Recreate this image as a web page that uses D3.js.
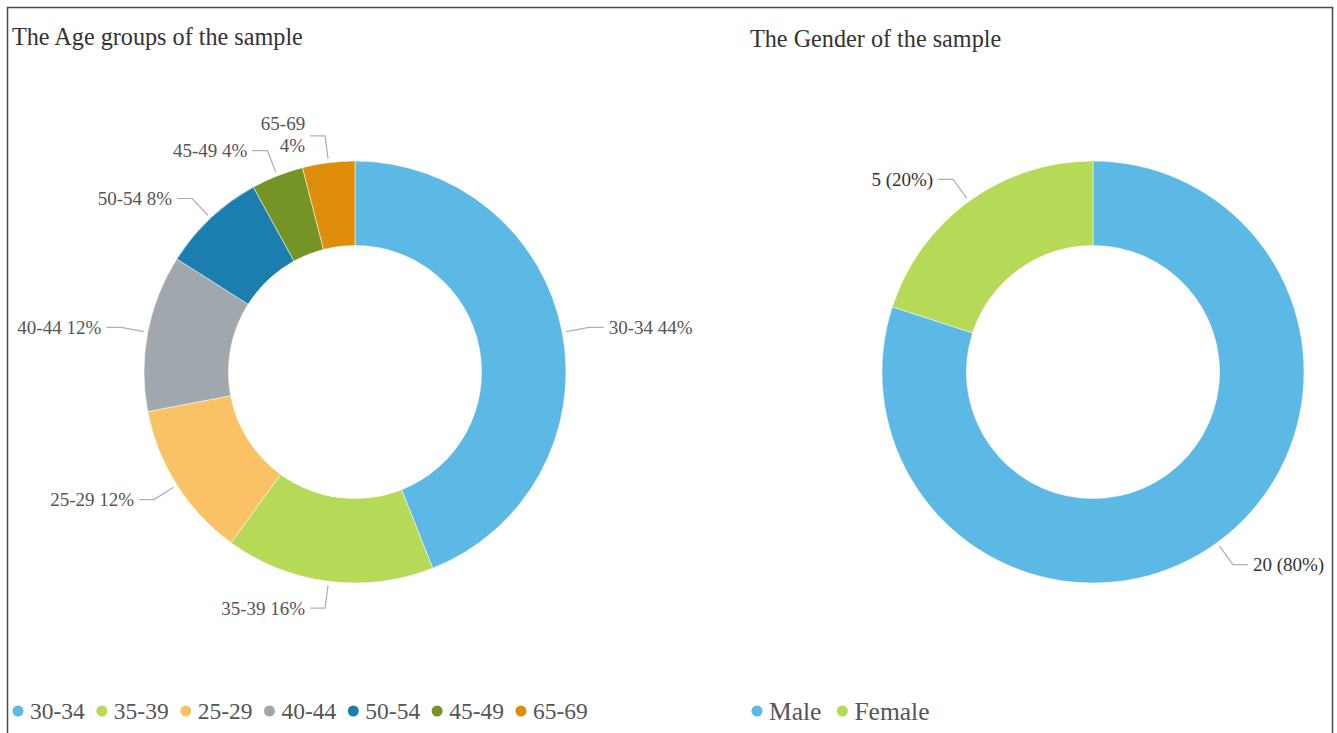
<!DOCTYPE html>
<html>
<head>
<meta charset="utf-8">
<script src="https://cdn.jsdelivr.net/npm/d3@7/dist/d3.min.js"></script>
<style>
  html, body { margin: 0; padding: 0; background: #fff; }
  svg { display: block; }
  svg text { font-family: "Liberation Serif", "Times New Roman", serif; }
</style>
</head>
<body>
<svg id="chart" width="1337" height="733"></svg>
<script>
// ---- data ----
const ageCategories = ["30-34", "35-39", "25-29", "40-44", "50-54", "45-49", "65-69"];
const ageValues = [11, 4, 3, 3, 2, 1, 1];
const ageColors = ["#5cb8e4", "#b6d957", "#f9c365", "#a0a8ad", "#1c7eae", "#749425", "#de8e0a"];
const ageWrapped = ["65-69"];

const genderCategories = ["Male", "Female"];
const genderValues = [20, 5];
const genderColors = ["#5cb8e4", "#b6d957"];

const titles = ["The Age groups of the sample", "The Gender of the sample"];

// ---- drawing ----
const svg = d3.select("#chart");
const FONT = "'Liberation Serif', 'Times New Roman', serif";

svg.append("rect")
  .attr("x", 7.5).attr("y", 7.5)
  .attr("width", 1325).attr("height", 740)
  .attr("fill", "none").attr("stroke", "#4a4a4a").attr("stroke-width", 1.5);

function donut(cfg) {
  const g = svg.append("g");
  const total = d3.sum(cfg.values);
  const data = cfg.categories.map((c, i) => ({ cat: c, value: cfg.values[i], color: cfg.colors[i] }));

  g.append("text")
    .attr("x", cfg.titleX).attr("y", cfg.titleY)
    .attr("font-family", FONT)
    .attr("font-size", 24.2).attr("fill", "#333")
    .text(cfg.title);

  const pie = d3.pie().value(d => d.value).sort(null);
  const arcs = pie(data);
  const R = cfg.r, r0 = cfg.r * 0.6;
  const arc = d3.arc().innerRadius(r0).outerRadius(R);

  const cg = g.append("g").attr("transform", `translate(${cfg.cx},${cfg.cy})`);
  cg.selectAll("path.slice").data(arcs).join("path")
    .attr("class", "slice")
    .attr("d", arc)
    .attr("fill", d => d.data.color)
    .attr("stroke", "#fff").attr("stroke-width", 0.5);

  const pt = (a, rr) => [Math.sin(a) * rr, -Math.cos(a) * rr];
  arcs.forEach(d => {
    const a = (d.startAngle + d.endAngle) / 2;
    const side = Math.sin(a) >= 0 ? 1 : -1;
    const p0 = pt(a, R + 4);
    const p1 = pt(a, R + cfg.len1);
    const p2 = [p1[0] + side * 15, p1[1]];
    cg.append("polyline")
      .attr("points", [p0, p1, p2].map(p => p.join(",")).join(" "))
      .attr("fill", "none").attr("stroke", "#b0b0b0").attr("stroke-width", 1.2);
    const pct = Math.round(d.data.value / total * 100);
    const label = cfg.format(d.data, pct);
    const t = cg.append("text")
      .attr("x", p2[0] + side * 5)
      .attr("y", p2[1])
      .attr("font-family", FONT)
      .attr("text-anchor", side > 0 ? "start" : "end")
      .attr("font-size", 19).attr("fill", cfg.labelColor);
    if (cfg.wrapped.includes(d.data.cat)) {
      const parts = label.split(" ");
      t.attr("text-anchor", "end");
      parts.forEach((s, i) => {
        t.append("tspan")
          .attr("x", p2[0] + side * 5)
          .attr("y", p2[1] - 13 + i * 22)
          .attr("dy", "0.35em")
          .text(s);
      });
    } else {
      t.attr("dy", "0.35em").text(label);
    }
  });

  // legend
  const lg = g.append("g");
  let x = cfg.legendX;
  data.forEach(d => {
    lg.append("circle").attr("cx", x).attr("cy", cfg.legendY).attr("r", 5.5).attr("fill", d.color);
    const t = lg.append("text")
      .attr("x", x + 12).attr("y", cfg.legendY).attr("dy", "0.35em")
      .attr("font-family", FONT)
      .attr("font-size", cfg.legendSize).attr("fill", "#555")
      .text(d.cat);
    x += 12 + t.node().getComputedTextLength() + cfg.legendGap;
  });
}

donut({
  title: titles[0], titleX: 12, titleY: 45,
  categories: ageCategories, values: ageValues, colors: ageColors, wrapped: ageWrapped,
  cx: 355, cy: 372, r: 211, len1: 27, labelColor: "#555",
  format: (d, pct) => `${d.cat} ${pct}%`,
  legendX: 18, legendY: 711, legendSize: 23.5, legendGap: 17
});

donut({
  title: titles[1], titleX: 750, titleY: 47,
  categories: genderCategories, values: genderValues, colors: genderColors, wrapped: [],
  cx: 1093, cy: 372, r: 211, len1: 27, labelColor: "#333",
  format: (d, pct) => `${d.value} (${pct}%)`,
  legendX: 757, legendY: 711, legendSize: 25.5, legendGap: 21
});
</script>
</body>
</html>
